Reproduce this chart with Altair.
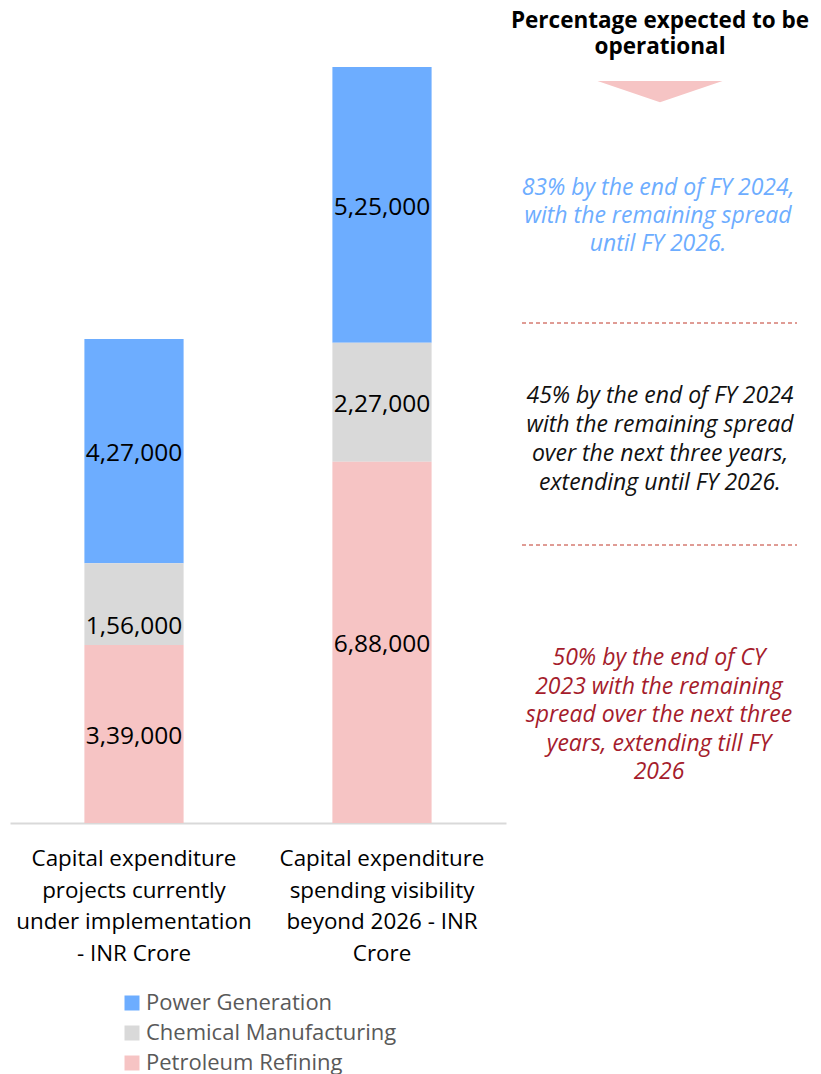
import altair as alt
import pandas as pd

categories = [
    "Capital expenditure projects currently under implementation - INR Crore",
    "Capital expenditure spending visibility beyond 2026 - INR Crore",
]
category_lines = [
    ["Capital expenditure", "projects currently", "under implementation", "- INR Crore"],
    ["Capital expenditure", "spending visibility", "beyond 2026 - INR", "Crore"],
]
segments = ["Power Generation", "Chemical Manufacturing", "Petroleum Refining"]
stack_rank = [2, 1, 0]
values_current = [427000, 156000, 339000]
values_beyond = [525000, 227000, 688000]
value_labels_current = ["4,27,000", "1,56,000", "3,39,000"]
value_labels_beyond = ["5,25,000", "2,27,000", "6,88,000"]
colors = ["#6DADFF", "#D9D9D9", "#F6C4C4"]

header_lines = ["Percentage expected to be", "operational"]
note_power = ["83% by the end of FY 2024,", "with the remaining spread", "until FY 2026."]
note_chem = ["45% by the end of FY 2024", "with the remaining spread",
             "over the next three years,", "extending until FY 2026."]
note_petro = ["50% by the end of CY", "2023 with the remaining", "spread over the next three",
              "years, extending till FY", "2026"]
note_colors = ["#6DADFF", "#111111", "#A51C2C"]

rows = []
for cat, vals, labs in [(categories[0], values_current, value_labels_current),
                        (categories[1], values_beyond, value_labels_beyond)]:
    for seg, v, lab, r in zip(segments, vals, labs, stack_rank):
        rows.append({"cat": cat, "segment": seg, "value": v, "label": lab, "rank": r})
df = pd.DataFrame(rows)

FONT = "Open Sans"
W, H = 496, 812
ymax = 1440000 * H / 756
yscale = alt.Scale(domain=[0, ymax], nice=False)

xenc = alt.X("cat:N", sort=categories,
             scale=alt.Scale(paddingInner=0.6, paddingOuter=0.3),
             axis=alt.Axis(title=None, labels=False, ticks=False, domain=True,
                           domainColor="#D9D9D9", domainWidth=2, grid=False))

base = alt.Chart(df)
bars = base.mark_bar().encode(
    x=xenc,
    y=alt.Y("value:Q", stack="zero", scale=yscale, axis=None),
    color=alt.Color("segment:N", sort=segments,
                    scale=alt.Scale(domain=segments, range=colors),
                    legend=alt.Legend(title=None, orient="none", legendX=111, legendY=981,
                                      symbolType="square", symbolSize=225, symbolStrokeWidth=0,
                                      labelFont=FONT, labelFontSize=22, labelColor="#595959",
                                      rowPadding=8, labelOffset=3, labelLimit=400)),
    order=alt.Order("rank:Q", sort="ascending"),
)

stacked = base.transform_stack(
    stack="value", groupby=["cat"], as_=["y0", "y1"], sort=[alt.SortField("rank", order="ascending")]
).transform_calculate(
    mid="(datum.y0 + datum.y1) / 2",
    small="datum.segment == 'Chemical Manufacturing' && datum.value < 200000"
)
value_text = stacked.transform_filter("!datum.small").mark_text(
    font=FONT, fontSize=24.5, color="#000000", baseline="middle", dy=3
).encode(
    x=alt.X("cat:N", sort=categories),
    y=alt.Y("mid:Q", scale=yscale),
    text="label:N",
)
value_text_small = stacked.transform_filter("datum.small").mark_text(
    font=FONT, fontSize=24.5, color="#000000", baseline="middle", dy=23
).encode(
    x=alt.X("cat:N", sort=categories),
    y=alt.Y("mid:Q", scale=yscale),
    text="label:N",
)

cat_df = pd.DataFrame({"cat": categories, "lines": category_lines})
cat_text = alt.Chart(cat_df).mark_text(
    font=FONT, fontSize=22.4, color="#000000", baseline="middle", lineHeight=31.7
).encode(
    x=alt.X("cat:N", sort=categories),
    y=alt.value(848),
    text="lines",
)

def text_block(lines, color, x, y, size=23, bold=False, italic=False, lh=28.5):
    d = pd.DataFrame({"t": [lines]})
    return alt.Chart(d).mark_text(
        font=FONT, fontSize=size, color=color, baseline="middle", align="center",
        lineHeight=lh, fontWeight="bold" if bold else "normal",
        fontStyle="italic" if italic else "normal",
    ).encode(x=alt.value(x), y=alt.value(y), text="t")

header = text_block(header_lines, "#000000", 650, 10, size=22.5, bold=True, lh=26)
n1 = text_block(note_power, note_colors[0], 648, 177, italic=True, lh=28)
n2 = text_block(note_chem, note_colors[1], 650, 385, italic=True, lh=29)
n3 = text_block(note_petro, note_colors[2], 649, 647, italic=True, lh=28.5)

tri = alt.Chart(pd.DataFrame({"k": [0]})).mark_point(
    shape="M-1,-0.17L1,-0.17L0,0.17Z", filled=True, color="#F6C4C4", opacity=1, size=15625
).encode(x=alt.value(650), y=alt.value(80.5))

dash1 = alt.Chart(pd.DataFrame({"k": [0]})).mark_rule(
    color="#C0392B", strokeDash=[4, 3], strokeWidth=1
).encode(x=alt.value(512), x2=alt.value(787), y=alt.value(312))
dash2 = alt.Chart(pd.DataFrame({"k": [0]})).mark_rule(
    color="#C0392B", strokeDash=[4, 3], strokeWidth=1
).encode(x=alt.value(512), x2=alt.value(787), y=alt.value(534))

chart = alt.layer(
    bars, value_text, value_text_small, cat_text, header, tri, dash1, dash2, n1, n2, n3
).properties(
    width=W, height=H,
    background="#FFFFFF",
    padding={"left": 2, "top": 2, "right": 0, "bottom": 0},
).configure_view(stroke=None)

chart.save("out.html", embed_options={"renderer": "svg", "actions": False})
